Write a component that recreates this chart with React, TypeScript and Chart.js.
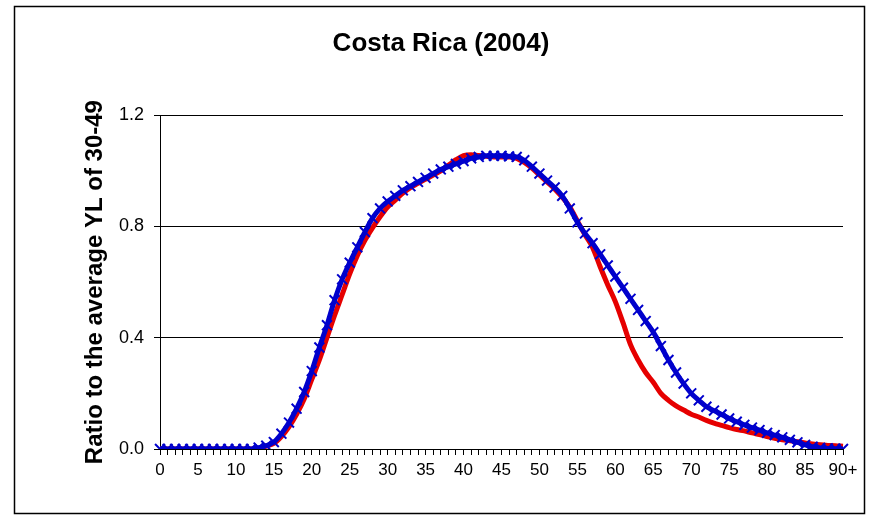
import React, { useEffect, useRef } from "react";
import { Chart, registerables } from "chart.js";

Chart.register(...registerables);

const ages: string[] = [];
for (let a = 0; a <= 89; a++) ages.push(String(a));
ages.push("90+");

const yTicks = [0, 0.4, 0.8, 1.2];

// Red series (thick red line)
const redValues = [
  0, 0, 0, 0, 0, 0, 0, 0, 0, 0, 0, 0, 0,
  0.003, 0.01, 0.02, 0.045, 0.08, 0.125, 0.18, 0.25, 0.32, 0.4, 0.48, 0.555,
  0.63, 0.695, 0.75, 0.795, 0.835, 0.87, 0.895, 0.92, 0.94, 0.955, 0.97, 0.985,
  1.0, 1.02, 1.04, 1.055, 1.058, 1.055, 1.052, 1.05, 1.05, 1.05, 1.045, 1.03,
  1.01, 0.985, 0.96, 0.935, 0.905, 0.87, 0.82, 0.77, 0.725, 0.655, 0.59, 0.53,
  0.455, 0.375, 0.32, 0.275, 0.24, 0.2, 0.175, 0.155, 0.14, 0.125, 0.115,
  0.103, 0.093, 0.085, 0.077, 0.07, 0.065, 0.058, 0.052, 0.045, 0.038, 0.033,
  0.03, 0.026, 0.022, 0.018, 0.015, 0.013, 0.012, 0.01,
];

// Blue series (line with x markers)
const blueValues = [
  0, 0, 0, 0, 0, 0, 0, 0, 0, 0, 0, 0, 0,
  0.005, 0.012, 0.025, 0.055, 0.095, 0.145, 0.205, 0.28, 0.365, 0.445, 0.535, 0.61,
  0.67, 0.725, 0.78, 0.83, 0.865, 0.89, 0.91, 0.93, 0.945, 0.96, 0.975, 0.99,
  1.005, 1.015, 1.025, 1.035, 1.045, 1.05, 1.054, 1.054, 1.054, 1.052, 1.05,
  1.038, 1.015, 0.99, 0.965, 0.94, 0.91, 0.865, 0.815, 0.775, 0.74, 0.7,
  0.66, 0.62, 0.58, 0.54, 0.5, 0.46, 0.42, 0.37, 0.32, 0.275, 0.235, 0.2,
  0.175, 0.152, 0.138, 0.124, 0.11, 0.098, 0.087, 0.077, 0.068, 0.058, 0.05,
  0.042, 0.033, 0.024, 0.015, 0.008, 0.004, 0.002, 0.001, 0,
];

const FONT = "'Liberation Sans', Arial, sans-serif";

const borderPlugin = {
  id: "outerBorder",
  afterDraw(chart: any) {
    const ctx = chart.ctx;
    ctx.save();
    ctx.strokeStyle = "#000";
    ctx.lineWidth = 1.5;
    ctx.strokeRect(14.5, 6.5, 850, 507);
    ctx.restore();
  },
};

export default function App() {
  const ref = useRef<HTMLCanvasElement | null>(null);
  useEffect(() => {
    if (!ref.current) return;
    const chart = new Chart(ref.current, {
      type: "line",
      data: {
        labels: ages,
        datasets: [
          {
            label: "Blue",
            data: blueValues,
            borderColor: "#0000CC",
            backgroundColor: "#0000CC",
            borderWidth: 5,
            pointStyle: "crossRot",
            pointRadius: 7,
            pointBorderWidth: 2,
            pointBorderColor: "#0000CC",
            cubicInterpolationMode: "monotone",
            order: 0,
          },
          {
            label: "Red",
            data: redValues,
            borderColor: "#E60000",
            backgroundColor: "#E60000",
            borderWidth: 5,
            pointRadius: 0,
            cubicInterpolationMode: "monotone",
            order: 1,
          },
        ],
      },
      options: {
        animation: false,
        responsive: false,
        devicePixelRatio: 1,
        layout: { padding: { left: 39, right: 28, top: 0, bottom: 0 } },
        plugins: {
          legend: { display: false },
          tooltip: { enabled: false },
          title: {
            display: true,
            text: "Costa Rica (2004)",
            color: "#000",
            font: { family: FONT, size: 26, weight: "bold", lineHeight: 1.2 },
            padding: { top: 28, bottom: 56 },
          },
        },
        scales: {
          x: {
            type: "category",
            offset: false,
            afterFit(scale: any) {
              scale.height = 70;
            },
            grid: {
              display: true,
              drawOnChartArea: false,
              drawTicks: true,
              tickLength: 6,
              color: "#000",
            },
            border: { display: true, color: "#000", width: 1 },
            ticks: {
              autoSkip: false,
              maxRotation: 0,
              minRotation: 0,
              padding: 5,
              color: "#000",
              font: { family: FONT, size: 17 },
              callback: (_v: any, i: number) => (i % 5 === 0 ? ages[i] : ""),
            },
          },
          y: {
            min: 0,
            max: 1.2,
            afterFit(scale: any) {
              scale.width = 121;
            },
            afterBuildTicks(scale: any) {
              scale.ticks = yTicks.map((v) => ({ value: v }));
            },
            grid: {
              display: true,
              drawOnChartArea: true,
              drawTicks: true,
              tickLength: 6,
              color: "#000",
              lineWidth: 1,
            },
            border: { display: true, color: "#000", width: 1 },
            ticks: {
              padding: 10,
              color: "#000",
              font: { family: FONT, size: 18 },
              callback: (v: any) => Number(v).toFixed(1),
            },
            title: {
              display: true,
              text: "Ratio to the average YL of 30-49",
              color: "#000",
              font: { family: FONT, size: 24, weight: "bold", lineHeight: 1.2 },
              padding: { top: 42, bottom: 0 },
            },
          },
        },
      },
      plugins: [borderPlugin],
    });
    return () => chart.destroy();
  }, []);
  return (
    <div style={{ position: "absolute", left: 0, top: 0, width: 871, height: 519 }}>
      <canvas ref={ref} width={871} height={519} style={{ width: 871, height: 519 }} />
    </div>
  );
}
